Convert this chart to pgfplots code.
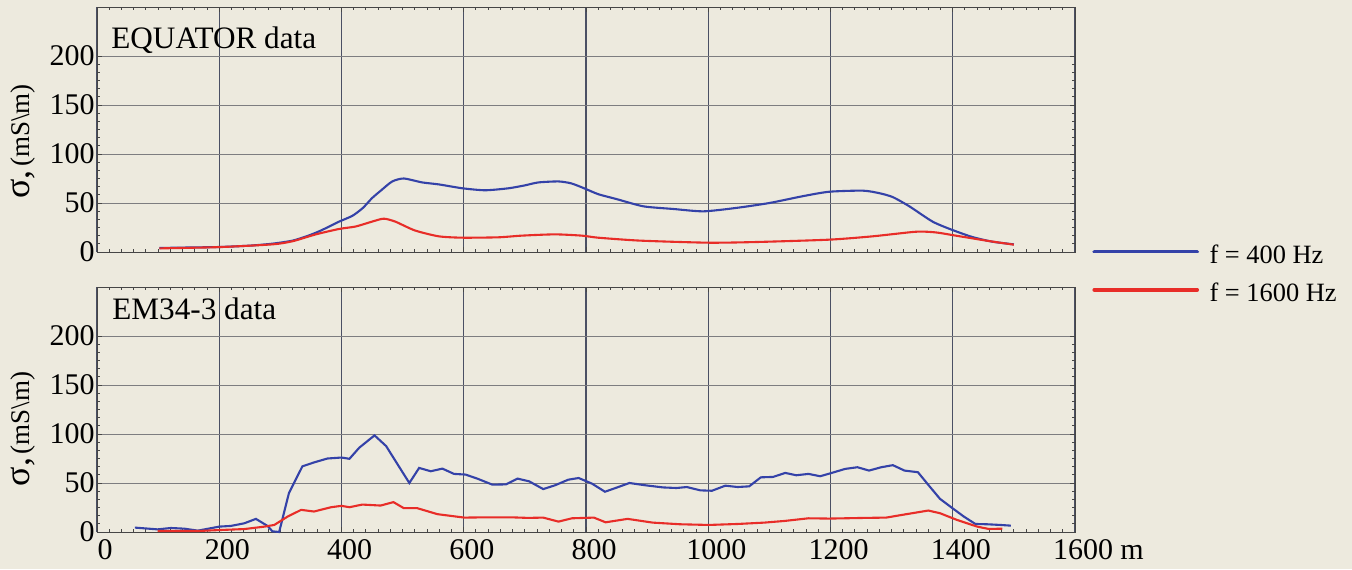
\documentclass[border=0pt]{standalone}
\usepackage{fontspec}
\setmainfont{Liberation Serif}
\usepackage{pgfplots}
\pgfplotsset{compat=1.18}
\definecolor{paper}{RGB}{237,234,222}
\definecolor{bl}{RGB}{52,66,168}
\definecolor{rd}{RGB}{232,45,40}
\definecolor{vgrid}{RGB}{75,80,100}
\definecolor{hgrid}{RGB}{125,125,128}
\definecolor{frm}{RGB}{70,70,70}
\pgfplotsset{
  panel/.style={
    scale only axis, width=489pt, height=122.5pt,
    xmin=0, xmax=1600, ymin=0, ymax=250,
    xtick={0,200,...,1600}, ytick={0,50,...,200},
    yticklabels={0,50,100,150,200},
    minor x tick num=9, minor y tick num=5,
    xmajorgrids, ymajorgrids,
    x grid style={vgrid, line width=0.55pt},
    y grid style={hgrid, line width=0.5pt},
    axis line style={frm, line width=0.5pt},
    tick style={frm, line width=0.5pt},
    major tick length=2.5pt, minor tick length=1.6pt,
    tick align=inside, xtick pos=both, ytick pos=both,
    xticklabel pos=bottom, yticklabel pos=left,
    tick label style={font=\fontsize{15}{18}\selectfont},
    yticklabel style={inner xsep=1pt},
    xticklabel style={xshift=4pt},
    clip=false,
  },
  blue line/.style={bl, line width=1.05pt},
  red line/.style={rd, line width=1.05pt},
}
\begin{document}
\begin{tikzpicture}
\fill[paper] (0,0) rectangle (676pt,284.5pt);
% ---------------- top panel ----------------
\begin{axis}[panel, at={(48.5pt,158.5pt)}, anchor=south west,
  xticklabels={},
  legend cell align=left,
  legend style={draw=none, fill=none, at={(rel axis cs:1.0174,0.029)}, anchor=north west,
    inner sep=0pt, row sep=8.25pt, column sep=5.3pt,
    font=\fontsize{13.2}{16}\selectfont, nodes={inner sep=0pt}},
  legend image code/.code={\draw[#1, line width=1.8pt, line cap=round] (0pt,2.2pt) -- (51.5pt,2.2pt);},
]
\addplot[blue line, smooth, tension=0.4] coordinates {
(102,4.1)(150,4.6)(200,5.1)(250,6.5)(287,8.5)(320,11.6)(345,16.5)(363,21)(380,26)(396,31)(418,37)(435,45)(450,55)(465,63)(483,72)(502,75)(532,71)(559,69)(598,65)(635,63)(673,65)(700,68)(722,71)(755,72)(776,70)(797,65)(820,59)(850,54)(894,46.6)(943,43.9)(992,41.5)(1046,45)(1100,50)(1155,57)(1198,61.5)(1253,62.6)(1280,60)(1302,56)(1329,46.6)(1367,31)(1398,22.8)(1432,15.3)(1465,10.5)(1500,7.8)};
\addlegendentry{f = 400 Hz}
\addplot[red line, smooth, tension=0.4] coordinates {
(102,3.7)(200,5)(287,7.8)(320,11)(358,18)(396,23.5)(423,26)(450,31)(469,34)(488,31)(520,22)(559,16)(598,14.6)(657,15)(695,16.7)(749,18)(793,16.7)(820,14.6)(889,11.6)(1000,9.5)(1079,10.2)(1198,12.6)(1269,16)(1340,20.7)(1372,20)(1405,16.7)(1459,11.2)(1500,7.5)};
\addlegendentry{f = 1600 Hz}
\node[anchor=base west, inner sep=0pt, font=\fontsize{15.6}{18}\selectfont] at (rel axis cs:0.0143,0.8286) {EQUATOR data};
\node[rotate=90, anchor=center, inner sep=0pt] at (rel axis cs:-0.0757,0.451)
  {{\fontsize{18}{20}\selectfont σ,}\,{\fontsize{13.5}{15}\selectfont (mS\textbackslash m)}};
\end{axis}
% ---------------- bottom panel ----------------
\begin{axis}[panel, at={(48.5pt,18.5pt)}, anchor=south west,
  xticklabels={0,200,400,600,800,1000,1200,1400,1600\rlap{ m}},
]
\addplot[blue line] coordinates {
(62,4.5)(99,2.7)(121,4.1)(143,3.4)(165,1.4)(200,5.5)(219,6.2)(241,8.9)(260,13.4)(279,6.2)(287,0.7)(298,0)(314,39.7)(336,67)(355,71)(377,75)(400,76)(413,74.7)(429,86)(454,98.6)(473,87.7)(492,68.8)(511,50)(527,65.4)(546,62)(565,64.7)(584,59.3)(603,58.6)(622,54.5)(647,48.3)(669,48.6)(688,54.5)(707,51.7)(730,43.8)(749,47.6)(771,53.4)(788,55.1)(810,49.3)(831,41.1)(851,45.5)(871,50)(898,47.6)(926,45.5)(948,44.9)(965,45.9)(987,42.5)(1006,42.1)(1028,47.3)(1048,45.9)(1067,46.6)(1086,55.8)(1106,56.2)(1126,60.3)(1144,57.9)(1164,59.3)(1183,56.9)(1202,60.3)(1224,64.4)(1244,66.1)(1263,62.7)(1283,66.1)(1302,68.2)(1321,62.7)(1343,61)(1362,46.6)(1379,33.9)(1398,25)(1418,15.8)(1437,8.2)(1456,7.9)(1478,7.2)(1495,6.5)};
\addplot[red line] coordinates {
(99,1)(165,1)(200,2)(241,3)(274,5.5)(290,7.2)(312,15.8)(334,22.6)(355,20.9)(383,25.3)(400,26.7)(413,25.3)(434,28)(464,27)(485,30.5)(502,24.3)(524,24.3)(557,18.2)(601,14.7)(639,15)(677,15)(705,14.4)(730,14.7)(755,10.6)(777,14)(813,14.7)(832,9.9)(868,13.4)(909,9.6)(954,7.9)(1001,7.2)(1048,8.2)(1092,9.6)(1125,11.3)(1164,14)(1198,13.7)(1257,14.4)(1291,14.7)(1324,18.2)(1360,21.9)(1379,19.2)(1407,12.3)(1440,5.5)(1459,3.1)(1481,3.4)};
\node[anchor=base west, inner sep=0pt, font=\fontsize{15.6}{18}\selectfont] at (rel axis cs:0.0153,0.869) {EM34-3 data};
\node[rotate=90, anchor=center, inner sep=0pt] at (rel axis cs:-0.0757,0.42)
  {{\fontsize{18}{20}\selectfont σ,}\,{\fontsize{13.5}{15}\selectfont (mS\textbackslash m)}};
\end{axis}
\end{tikzpicture}
\end{document}
